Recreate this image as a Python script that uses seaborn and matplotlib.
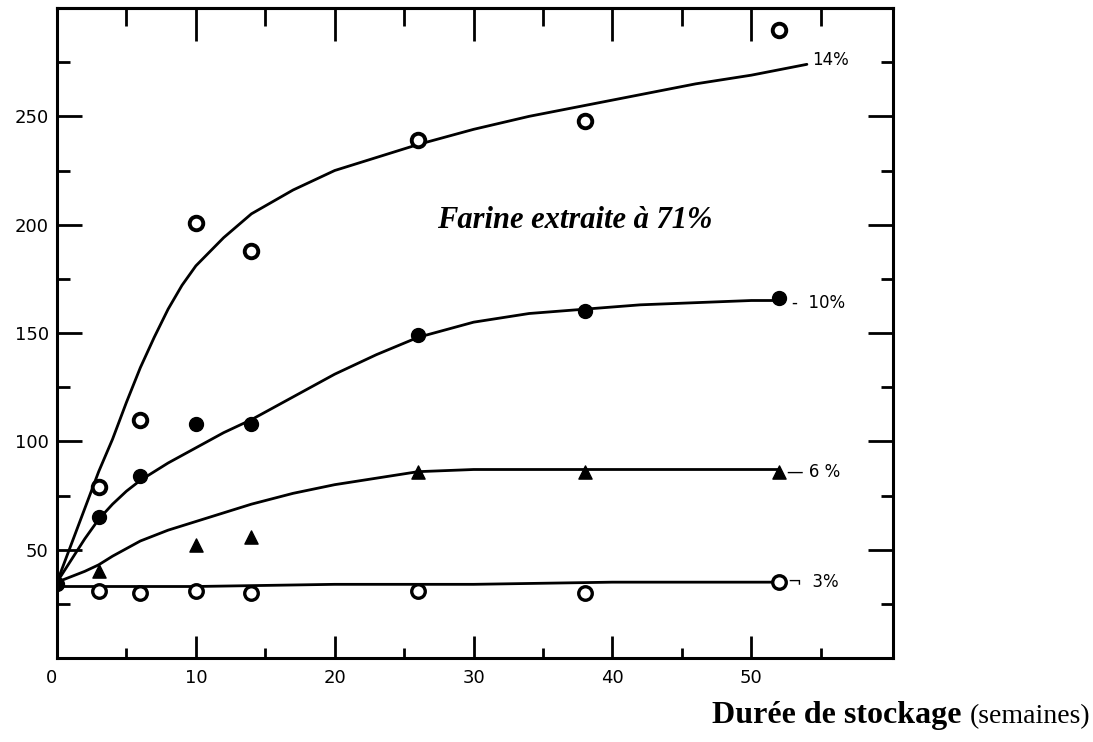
import numpy as np
import pandas as pd
import matplotlib
matplotlib.use("Agg")
import matplotlib.pyplot as plt
import seaborn as sns
from matplotlib.ticker import FixedLocator

# ---------------- data ----------------
weeks_14 = [3, 6, 10, 14, 26, 38, 52]
vals_14 = [79, 110, 201, 188, 239, 248, 290]

weeks_10 = [0, 3, 6, 10, 14, 26, 38, 52]
vals_10 = [34, 65, 84, 108, 108, 149, 160, 166]

weeks_6 = [3, 10, 14, 26, 38, 52]
vals_6 = [40, 52, 56, 86, 86, 86]

weeks_3 = [3, 6, 10, 14, 26, 38, 52]
vals_3 = [31, 30, 31, 30, 31, 30, 35]

# hand-drawn fitted curves
curve_x_14 = [0, 1, 2, 3, 4, 5, 6, 7, 8, 9, 10, 12, 14, 17, 20, 23, 26, 30, 34, 38, 42, 46, 50, 54]
curve_y_14 = [35, 52, 69, 86, 101, 118, 134, 148, 161, 172, 181, 194, 205, 216, 225, 231, 237, 244, 250, 255, 260, 265, 269, 274]

curve_x_10 = [0, 1, 2, 3, 4, 5, 6, 8, 10, 12, 14, 16, 18, 20, 23, 26, 30, 34, 38, 42, 46, 50, 52]
curve_y_10 = [35, 45, 55, 64, 71, 77, 82, 90, 97, 104, 110, 117, 124, 131, 140, 148, 155, 159, 161, 163, 164, 165, 165]

curve_x_6 = [0, 2, 3, 4, 6, 8, 10, 12, 14, 17, 20, 23, 26, 30, 38, 46, 52]
curve_y_6 = [35, 40, 43, 47, 54, 59, 63, 67, 71, 76, 80, 83, 86, 87, 87, 87, 87]

curve_x_3 = [0, 10, 20, 30, 40, 52]
curve_y_3 = [33, 33, 34, 34, 35, 35]

series_labels = ["14%", "10%", "6%", "3%"]

x_major = [0, 10, 20, 30, 40, 50]
x_minor = [5, 15, 25, 35, 45, 55]
y_major = [50, 100, 150, 200, 250]
y_minor = [25, 75, 125, 175, 225, 275]

# ---------------- figure ----------------
sns.set_style("ticks")
plt.rcParams["font.family"] = ["DejaVu Sans"]
plt.rcParams["text.color"] = "black"
plt.rcParams["xtick.color"] = "black"
plt.rcParams["ytick.color"] = "black"
plt.rcParams["xtick.labelcolor"] = "black"
plt.rcParams["ytick.labelcolor"] = "black"

fig = plt.figure(figsize=(10.93, 7.42), dpi=100)
ax = fig.add_axes([57 / 1093, 1 - 658 / 742, (893 - 57) / 1093, (658 - 8) / 742])

curves = pd.concat([
    pd.DataFrame({"x": curve_x_14, "y": curve_y_14, "s": "14%"}),
    pd.DataFrame({"x": curve_x_10, "y": curve_y_10, "s": "10%"}),
    pd.DataFrame({"x": curve_x_6, "y": curve_y_6, "s": "6%"}),
    pd.DataFrame({"x": curve_x_3, "y": curve_y_3, "s": "3%"}),
])
sns.lineplot(data=curves, x="x", y="y", hue="s",
             palette={k: "black" for k in series_labels},
             estimator=None, sort=False, legend=False, linewidth=2.0, ax=ax, zorder=2)

pts14 = pd.DataFrame({"x": weeks_14, "y": vals_14})
pts10 = pd.DataFrame({"x": weeks_10, "y": vals_10})
pts6 = pd.DataFrame({"x": weeks_6, "y": vals_6})
pts3 = pd.DataFrame({"x": weeks_3, "y": vals_3})

sns.scatterplot(data=pts14, x="x", y="y", marker="o", s=95, facecolor="white",
                edgecolor="black", linewidth=2.8, ax=ax, zorder=3, legend=False)
sns.scatterplot(data=pts10, x="x", y="y", marker="o", s=100, color="black",
                edgecolor="black", linewidth=1, ax=ax, zorder=3, legend=False)
sns.scatterplot(data=pts6, x="x", y="y", marker="^", s=90, color="black",
                edgecolor="black", linewidth=1, ax=ax, zorder=3, legend=False)
sns.scatterplot(data=pts3, x="x", y="y", marker="o", s=95, facecolor="white",
                edgecolor="black", linewidth=2.4, ax=ax, zorder=3, legend=False)

ax.set_xlim(0, 60.2)
ax.set_ylim(0, 300)

# ticks
ax.xaxis.set_major_locator(FixedLocator(x_major))
ax.xaxis.set_minor_locator(FixedLocator(x_minor))
ax.yaxis.set_major_locator(FixedLocator(y_major))
ax.yaxis.set_minor_locator(FixedLocator(y_minor))
ax.set_xticklabels([str(v) for v in x_major])
ax.set_yticklabels([str(v) for v in y_major])
ax.tick_params(axis="y", which="major", direction="in", length=18, width=2.0,
               left=True, right=True, labelsize=13, pad=6)
ax.tick_params(axis="y", which="minor", direction="in", length=9, width=2.0,
               left=True, right=True)
ax.tick_params(axis="x", which="major", direction="in", length=16, width=2.0,
               bottom=True, top=False, labelsize=13, pad=8)
ax.tick_params(axis="x", which="minor", direction="in", length=7, width=2.0,
               bottom=True, top=False)
ax.get_xticklabels()[0].set_horizontalalignment("right")

top = ax.secondary_xaxis("top")
top.xaxis.set_major_locator(FixedLocator(x_major))
top.xaxis.set_minor_locator(FixedLocator(x_minor))
top.tick_params(axis="x", which="major", direction="in", length=24, width=2.0, labeltop=False)
top.tick_params(axis="x", which="minor", direction="in", length=13, width=2.0)
top.spines["top"].set_linewidth(2.2)

for sp in ax.spines.values():
    sp.set_visible(True)
    sp.set_linewidth(2.2)
    sp.set_color("black")

ax.set_xlabel("")
ax.set_ylabel("")

# curve labels
ax.text(54.4, 276, "14%", fontsize=12, va="center", ha="left")
ax.text(52.9, 164, "-  10%", fontsize=12, va="center", ha="left")
ax.text(52.55, 86, "— 6 %", fontsize=12, va="center", ha="left")
ax.text(52.65, 35, "¬  3%", fontsize=12, va="center", ha="left")

ax.text(37.25, 198.5, "Farine extraite à 71%", fontsize=22, fontstyle="italic",
        fontweight="bold", family=["Liberation Serif", "DejaVu Serif"],
        ha="center", va="baseline")

fig.text(712 / 1093, 1 - 723 / 742, "Durée de stockage", fontsize=23, fontweight="bold",
         family=["Liberation Serif", "DejaVu Serif"], ha="left", va="baseline")
fig.text(1090 / 1093, 1 - 723 / 742, "(semaines)", fontsize=20,
         family=["Liberation Serif", "DejaVu Serif"], ha="right", va="baseline")

fig.savefig("out.png", dpi=100)
